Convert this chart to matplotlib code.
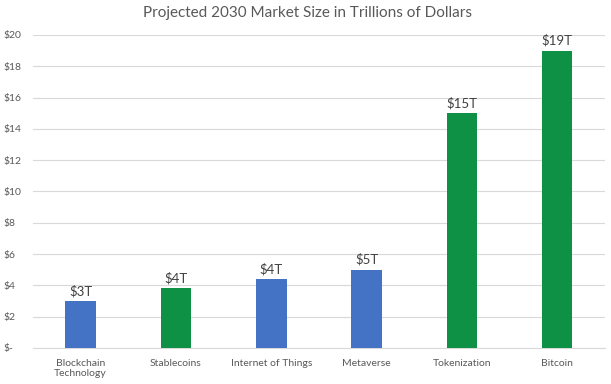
import matplotlib.pyplot as plt

categories = ['Blockchain\nTechnology', 'Stablecoins', 'Internet of Things', 'Metaverse', 'Tokenization', 'Bitcoin']
values = [3.0, 3.8, 4.4, 5.0, 15.0, 19.0]
bar_labels = ['$3T', '$4T', '$4T', '$5T', '$15T', '$19T']
colors = ['#4472C4', '#0F9145', '#4472C4', '#4472C4', '#0F9145', '#0F9145']
yticks = [0, 2, 4, 6, 8, 10, 12, 14, 16, 18, 20]
ytick_labels = ['$-', '$2', '$4', '$6', '$8', '$10', '$12', '$14', '$16', '$18', '$20']

plt.rcParams['font.family'] = ['Lato', 'DejaVu Sans']

fig = plt.figure(figsize=(6.11, 3.84), dpi=100)
ax = fig.add_axes([0.054, 0.094, 0.936, 0.815])

x = range(len(categories))
bars = ax.bar(x, values, width=0.32, color=colors, zorder=3)

# labels above bars
for b, lab in zip(bars, bar_labels):
    ax.text(b.get_x() + b.get_width() / 2, b.get_height() + 0.25, lab,
            ha='center', va='bottom', fontsize=9.5, color='#404040')

ax.set_xlim(-0.5, len(categories) - 0.5)
ax.set_ylim(0, 20)
ax.set_yticks(yticks)
ax.set_yticklabels(ytick_labels)
ax.set_xticks(list(x))
ax.set_xticklabels(categories)
ax.tick_params(axis='both', length=0, labelsize=7.5, colors='#595959')
ax.tick_params(axis='x', pad=8)
ax.tick_params(axis='y', pad=21)
for lab in ax.get_yticklabels():
    lab.set_horizontalalignment('left')

ax.grid(axis='y', color='#D9D9D9', linewidth=0.8, zorder=0)
for s in ['top', 'right', 'left']:
    ax.spines[s].set_visible(False)
ax.spines['bottom'].set_color('#D9D9D9')

fig.text(0.503, 0.965, 'Projected 2030 Market Size in Trillions of Dollars',
         ha='center', va='center', fontsize=11, color='#595959')

fig.savefig('out.png', dpi=100)
